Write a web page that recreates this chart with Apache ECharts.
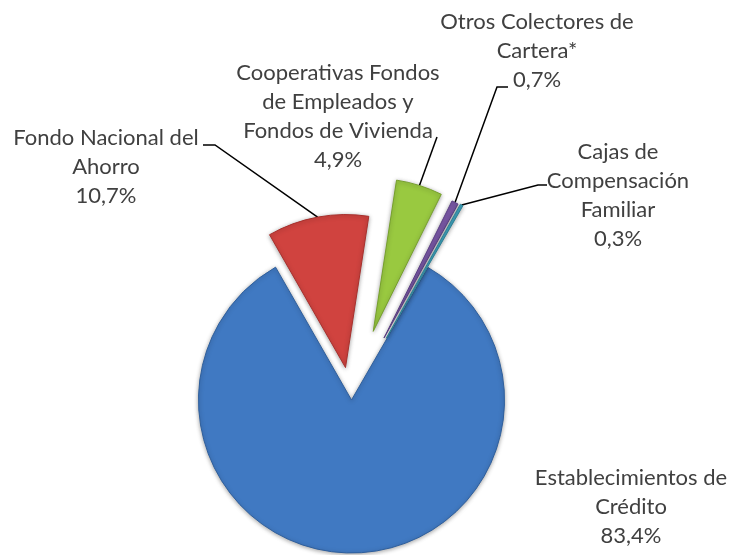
<!DOCTYPE html>
<html><head><meta charset="utf-8">
<script src="https://cdn.jsdelivr.net/npm/echarts@6/dist/echarts.min.js"></script>
<style>html,body{margin:0;padding:0;background:#fff}#c{width:732px;height:555px}</style>
</head><body><div id="c"></div>
<script>
const categories = ['Establecimientos de\nCrédito', 'Fondo Nacional del\nAhorro', 'Cooperativas Fondos\nde Empleados y\nFondos de Vivienda', 'Otros Colectores de\nCartera*', 'Cajas de\nCompensación\nFamiliar'];
const values = [83.4, 10.7, 4.9, 0.7, 0.3];
const colors = ['#4079c2', '#d0433f', '#99c940', '#7a58a6', '#3ea3bd'];
const borderColors = ['#2f5f9c', '#a8302d', '#76a02c', '#5b3f85', '#2c7f94'];
const explode = [0, 33, 72, 70, 71];
const labelPos = [[631, 507], [106, 167], [338, 116], [537, 51], [618, 195]];
// leader line: elbow and end points near each label (null = no leader)
const leaderEnds = [null, [[215, 145], [203, 145]], [[437, 137], [437, 137]], [[497, 87], [508, 87]], [[538, 185], [547, 185]]];

const C = [351.5, 400], R = 153, START = 60; // echarts startAngle (deg, ccw from 3 o'clock)
const total = values.reduce((a, b) => a + b, 0);
const fmt = v => v.toFixed(1).replace('.', ',') + '%';

const series = [];
let cum = 0;
values.forEach((v, i) => {
  const a0 = (90 - START) + cum / total * 360; // clockwise from north
  const mid = (a0 + v / total * 180) * Math.PI / 180;
  cum += v;
  const cx = C[0] + explode[i] * Math.sin(mid);
  const cy = C[1] - explode[i] * Math.cos(mid);
  const arcMid = [cx + R * Math.sin(mid), cy - R * Math.cos(mid)];
  const lp = labelPos[i];
  const le = leaderEnds[i];
  series.push({
    type: 'pie',
    silent: true,
    animation: false,
    center: [cx, cy],
    radius: [0, R],
    startAngle: START,
    clockwise: true,
    avoidLabelOverlap: false,
    data: values.map((val, j) => j === i ? {
      name: categories[j], value: val,
      itemStyle: { color: colors[j], borderColor: borderColors[j], borderWidth: 1,
        shadowBlur: 4, shadowColor: 'rgba(0,0,0,0.35)', shadowOffsetY: 1 },
      label: { show: true },
      labelLine: { show: !!le }
    } : {
      name: categories[j], value: val,
      itemStyle: { color: 'rgba(0,0,0,0)', borderWidth: 0 },
      label: { show: false }, labelLine: { show: false }
    }),
    label: {
      position: 'outside',
      formatter: p => p.name + '\n' + fmt(p.value),
      fontFamily: 'Lato', fontSize: 22, lineHeight: 29, color: '#404040', align: 'center'
    },
    labelLine: { show: true, length: 10, length2: 10, lineStyle: { color: '#000', width: 1.5 } },
    labelLayout: function () {
      const o = { x: lp[0], y: lp[1], align: 'center', verticalAlign: 'middle' };
      if (le) o.labelLinePoints = [arcMid, le[0], le[1]];
      return o;
    },
    emphasis: { disabled: true }
  });
});

const chart = echarts.init(document.getElementById('c'), null, { renderer: 'canvas' });
chart.setOption({ backgroundColor: '#fff', animation: false, series });
</script></body></html>
